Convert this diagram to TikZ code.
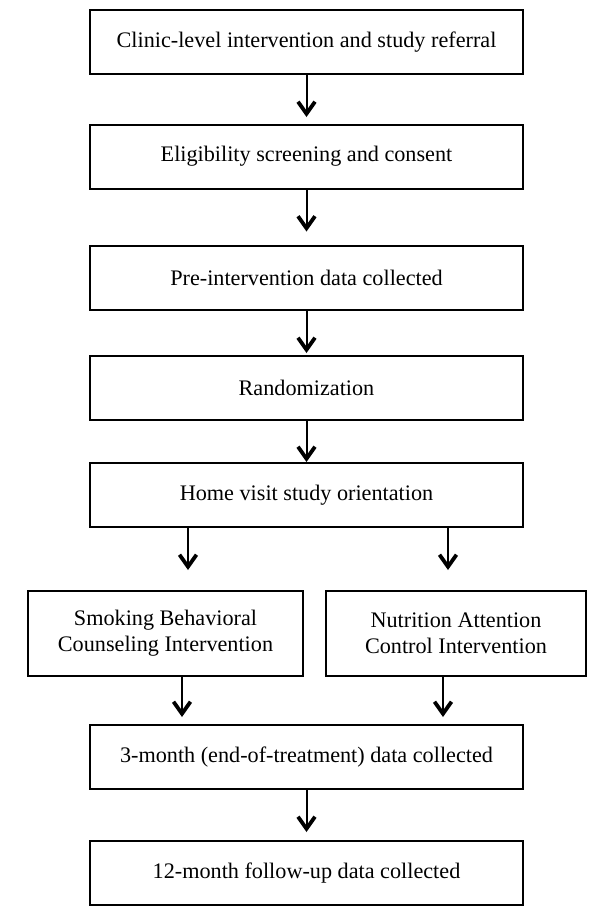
\documentclass[tikz,border=0pt]{standalone}
\usepackage{fontspec}
\setmainfont{Liberation Serif}
\usetikzlibrary{arrows.meta}
\tikzset{
  arr/.style={-{Straight Barb[length=6pt,width=8.5pt,line width=1.9pt]}, line width=1pt}
}

\begin{document}
\begin{tikzpicture}[node distance={57.25pt},line width=1pt,main/.style = {draw, rectangle, minimum width=216.5pt, minimum height=32pt, inner sep=0pt, align=center, font=\fontsize{11.1}{13}\selectfont}]
      \useasboundingbox (0,0) rectangle (300pt,-461pt);
      \node[main](1) at (153.25pt,-21pt){Clinic-level intervention and study referral};
      \node[main](2)[below of=1]{Eligibility screening and consent};
      \node[main](3)[below of=2, node distance=60.75pt]{Pre-intervention data collected};
      \node[main](4)[below of=3, node distance=54.75pt]{Randomization};
      \node[main](5)[below of=4, node distance=53.75pt]{Home visit study orientation};
      \node[main, minimum width=137.5pt, minimum height=42.5pt](6)[below of=5, node distance=69.25pt, xshift=-70.5pt]{Smoking Behavioral\\Counseling Intervention};
      \node[main, minimum width=130pt, minimum height=42.5pt](7)[below of=5, node distance=69.25pt, xshift=74.75pt]{Nutrition Attention\\Control Intervention};
      \node[main](8)[below of=5, node distance=131pt]{3-month (end-of-treatment) data collected};
      \node[main](9)[below of=8, node distance=58pt]{12-month follow-up data collected};

      \path[arr]
      (1) edge[shorten >=3.25pt] (2)
      (2) edge[shorten >=6.75pt] (3)
      (3) edge[shorten >=0.75pt] (4)
      (4) edge (5)
      (8) edge[shorten >=4pt] (9)
      ;

      % the two arms are not centred on their boxes
      \coordinate (6a) at ([xshift=11.25pt]6.north);
      \coordinate (6b) at ([xshift=8.25pt]6.south);
      \coordinate (7a) at ([xshift=-4pt]7.north);
      \coordinate (7b) at ([xshift=-6.5pt]7.south);
      \draw[arr, shorten >=10pt] (6a |- 5.south) -- (6a);
      \draw[arr, shorten >=10pt] (7a |- 5.south) -- (7a);
      \draw[arr, shorten >=3.5pt] (6b) -- (6b |- 8.north);
      \draw[arr, shorten >=3.5pt] (7b) -- (7b |- 8.north);

    \end{tikzpicture}
\end{document}
